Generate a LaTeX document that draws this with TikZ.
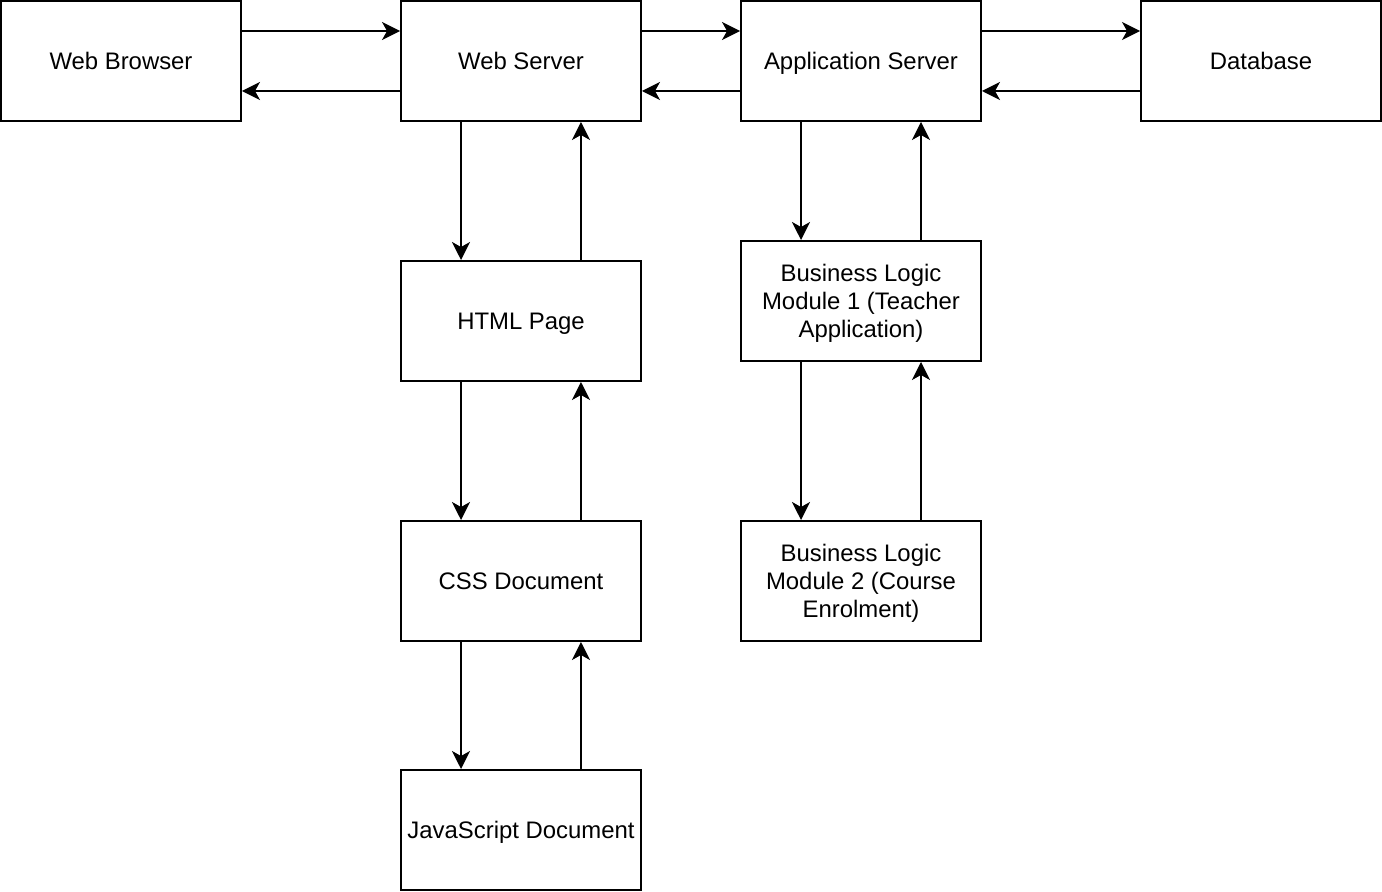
\documentclass[tikz,border=0pt]{standalone}
\usepackage{fontspec}
\setmainfont{Liberation Sans}
\usetikzlibrary{arrows.meta}

\begin{document}
\begin{tikzpicture}[x=0.02cm,y=-0.02cm,line width=0.04cm,
  blok/.style={draw, rectangle, minimum width=4.8cm, minimum height=2.4cm, inner sep=0pt, align=center, text depth=0pt, font=\fontsize{13.6}{15.9}\selectfont},
  >={Stealth[length=0.36cm,width=0.36cm,inset=0.1cm]}]
\useasboundingbox (0,0) rectangle (1382,892);

% top row
\node[blok] (browser) at (121,61) {Web Browser};
\node[blok] (webserver) at (521,61) {Web Server};
\node[blok] (appserver) at (861,61) {Application Server};
\node[blok] (database) at (1261,61) {Database};

% web server column
\node[blok] (html) at (521,321) {HTML Page};
\node[blok] (css) at (521,581) {CSS Document};
\node[blok] (js) at (521,830) {JavaScript Document};

% application server column
\node[blok] (logic1) at (861,301) {Business Logic\\Module 1 (Teacher\\Application)};
\node[blok] (logic2) at (861,581) {Business Logic\\Module 2 (Course\\Enrolment)};

% request / response pairs
\draw[->] ([yshift=0.6cm]browser.east) -- ([yshift=0.6cm]webserver.west);
\draw[->] ([yshift=-0.6cm]webserver.west) -- ([yshift=-0.6cm]browser.east);
\draw[->] ([yshift=0.6cm]webserver.east) -- ([yshift=0.6cm]appserver.west);
\draw[->] ([yshift=-0.6cm]appserver.west) -- ([yshift=-0.6cm]webserver.east);
\draw[->] ([yshift=0.6cm]appserver.east) -- ([yshift=0.6cm]database.west);
\draw[->] ([yshift=-0.6cm]database.west) -- ([yshift=-0.6cm]appserver.east);

\draw[->] ([xshift=-1.2cm]webserver.south) -- ([xshift=-1.2cm]html.north);
\draw[->] ([xshift=1.2cm]html.north) -- ([xshift=1.2cm]webserver.south);
\draw[->] ([xshift=-1.2cm]html.south) -- ([xshift=-1.2cm]css.north);
\draw[->] ([xshift=1.2cm]css.north) -- ([xshift=1.2cm]html.south);
\draw[->] ([xshift=-1.2cm]css.south) -- ([xshift=-1.2cm]js.north);
\draw[->] ([xshift=1.2cm]js.north) -- ([xshift=1.2cm]css.south);

\draw[->] ([xshift=-1.2cm]appserver.south) -- ([xshift=-1.2cm]logic1.north);
\draw[->] ([xshift=1.2cm]logic1.north) -- ([xshift=1.2cm]appserver.south);
\draw[->] ([xshift=-1.2cm]logic1.south) -- ([xshift=-1.2cm]logic2.north);
\draw[->] ([xshift=1.2cm]logic2.north) -- ([xshift=1.2cm]logic1.south);
\end{tikzpicture}
\end{document}
